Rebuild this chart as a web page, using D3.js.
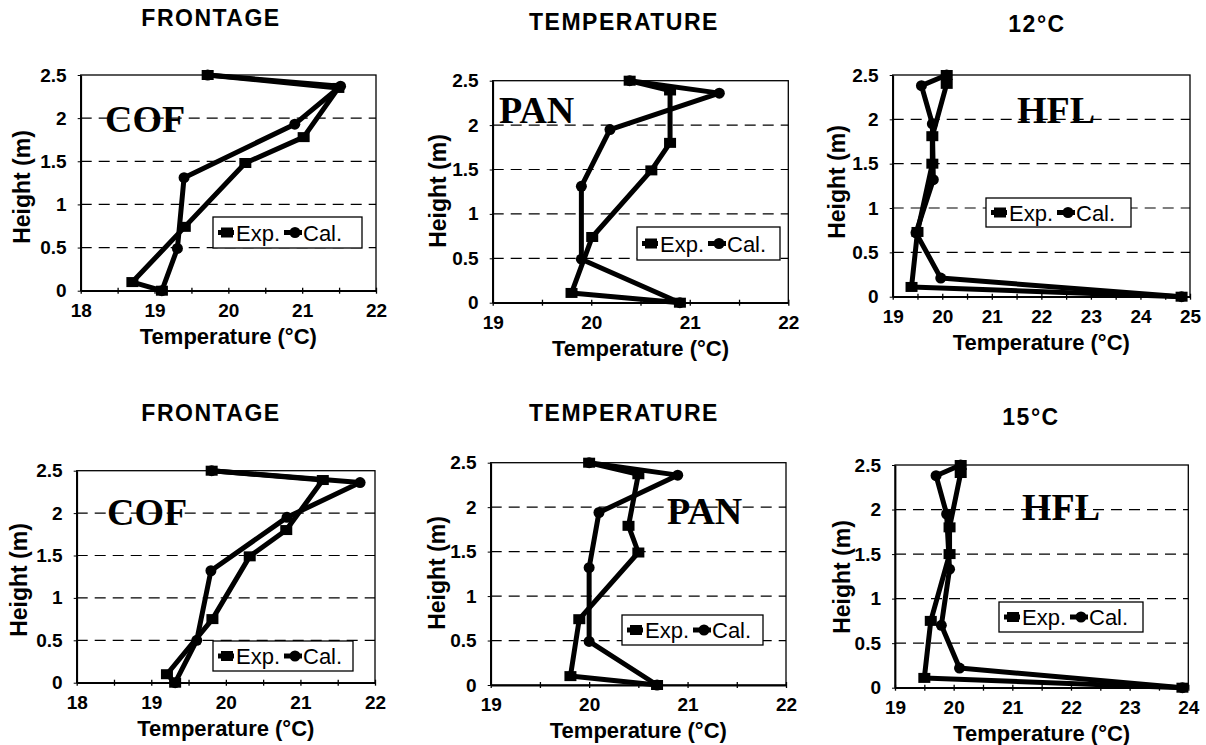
<!DOCTYPE html>
<html><head><meta charset="utf-8">
<script src="https://cdn.jsdelivr.net/npm/d3@7"></script>
<style>
html,body{margin:0;padding:0;background:#fff;}
svg text{font-family:"Liberation Sans",Arial,sans-serif;fill:#000;}
</style></head>
<body><svg id="chart" width="1206" height="745"></svg>
<script>
// ---------- data ----------
const heightTicks = [0, 0.5, 1, 1.5, 2, 2.5];
const gridLevels = [0.5, 1, 1.5, 2];
const titleWords = ["FRONTAGE", "TEMPERATURE", "12°C", "FRONTAGE", "TEMPERATURE", "15°C"];
const panelLabels = ["COF", "PAN", "HFL", "COF", "PAN", "HFL"];
const seriesNames = ["Exp.", "Cal."];
const xDomains = [[18, 22], [19, 22], [19, 25], [18, 22], [19, 22], [19, 24]];
const xTickLabels = [[18, 19, 20, 21, 22], [19, 20, 21, 22], [19, 20, 21, 22, 23, 24, 25],
                     [18, 19, 20, 21, 22], [19, 20, 21, 22], [19, 20, 21, 22, 23, 24]];

// top row, 12°C
const cofExpT12 = [19.72, 21.49, 21.02, 20.23, 19.41, 18.70, 19.10];
const cofExpH12 = [2.5, 2.35, 1.78, 1.48, 0.74, 0.10, 0];
const cofCalT12 = [19.72, 21.52, 20.90, 19.40, 19.31, 19.10];
const cofCalH12 = [2.5, 2.37, 1.93, 1.31, 0.49, 0];

const panExpT12 = [20.39, 20.80, 20.80, 20.61, 20.01, 19.80, 20.90];
const panExpH12 = [2.5, 2.39, 1.80, 1.49, 0.74, 0.11, 0];
const panCalT12 = [20.39, 21.30, 20.19, 19.90, 19.90, 20.90];
const panCalH12 = [2.5, 2.36, 1.95, 1.31, 0.49, 0];

const hflExpT12 = [20.09, 20.09, 19.80, 19.80, 19.50, 19.38, 24.83];
const hflExpH12 = [2.5, 2.40, 1.81, 1.50, 0.73, 0.11, 0];
const hflCalT12 = [20.09, 19.58, 19.80, 19.82, 19.47, 19.97, 24.83];
const hflCalH12 = [2.5, 2.38, 1.95, 1.32, 0.72, 0.21, 0];

// bottom row, 15°C
const cofExpT15 = [19.81, 21.30, 20.81, 20.32, 19.82, 19.21, 19.32];
const cofExpH15 = [2.5, 2.39, 1.80, 1.49, 0.75, 0.10, 0];
const cofCalT15 = [19.81, 21.80, 20.82, 19.80, 19.61, 19.32];
const cofCalH15 = [2.5, 2.36, 1.95, 1.32, 0.50, 0];

const panExpT15 = [20.00, 20.50, 20.40, 20.50, 19.90, 19.81, 20.69];
const panExpH15 = [2.5, 2.37, 1.79, 1.49, 0.74, 0.10, 0];
const panCalT15 = [20.00, 20.90, 20.10, 20.00, 20.00, 20.69];
const panCalH15 = [2.5, 2.36, 1.94, 1.32, 0.49, 0];

const hflExpT15 = [20.12, 20.12, 19.93, 19.93, 19.61, 19.50, 23.90];
const hflExpH15 = [2.5, 2.41, 1.80, 1.50, 0.75, 0.11, 0];
const hflCalT15 = [20.12, 19.70, 19.88, 19.93, 19.79, 20.10, 23.90];
const hflCalH15 = [2.5, 2.38, 1.95, 1.33, 0.70, 0.22, 0];

const expT = [cofExpT12, panExpT12, hflExpT12, cofExpT15, panExpT15, hflExpT15];
const expH = [cofExpH12, panExpH12, hflExpH12, cofExpH15, panExpH15, hflExpH15];
const calT = [cofCalT12, panCalT12, hflCalT12, cofCalT15, panCalT15, hflCalT15];
const calH = [cofCalH12, panCalH12, hflCalH12, cofCalH15, panCalH15, hflCalH15];

// ---------- layout ----------
const layout = [
  {l: 80.7, r: 376, t: 75, b: 290.7, tx: 211, ty: 26, lx: 105, ly: 132, lg: [213, 217, 149, 31], yt: [22, 187]},
  {l: 492.7, r: 788.3, t: 80.7, b: 302.7, tx: 624, ty: 30, lx: 499, ly: 123, lg: [637, 227, 143, 33], yt: [438, 191]},
  {l: 892.7, r: 1190, t: 75, b: 296.7, tx: 1037, ty: 32, lx: 1017, ly: 123, lg: [986, 198, 145, 29], yt: [837, 182]},
  {l: 76.7, r: 375, t: 470.7, b: 682.7, tx: 211, ty: 421, lx: 107, ly: 525, lg: [213, 641, 140, 30], yt: [19, 580]},
  {l: 490.7, r: 786, t: 462.7, b: 685, tx: 624, ty: 421, lx: 667, ly: 524, lg: [622, 615, 141, 30], yt: [437, 573]},
  {l: 895, r: 1188.3, t: 465, b: 687.7, tx: 1031, ty: 425, lx: 1022, ly: 520, lg: [999, 602, 144, 30], yt: [842, 577]}
];

const svg = d3.select("#chart");
const yFmt = d3.format("~g");

layout.forEach((L, i) => {
  const x = d3.scaleLinear().domain(xDomains[i]).range([L.l, L.r]);
  const y = d3.scaleLinear().domain([0, 2.5]).range([L.b, L.t]);
  const g = svg.append("g");

  // title word
  g.append("text").attr("x", L.tx).attr("y", L.ty).attr("text-anchor", "middle")
    .style("font-weight", "bold").style("font-size", "23px").style("letter-spacing", "1.5px")
    .text(titleWords[i]);

  // grid
  g.selectAll(".grid").data(gridLevels).join("line")
    .attr("x1", L.l).attr("x2", L.r).attr("y1", d => y(d)).attr("y2", d => y(d))
    .attr("stroke", "#000").attr("stroke-width", 1.2).attr("stroke-dasharray", "11,7");

  // frame
  g.append("rect").attr("x", L.l).attr("y", L.t).attr("width", L.r - L.l).attr("height", L.b - L.t)
    .attr("fill", "none").attr("stroke", "#000").attr("stroke-width", 1.3);

  // x axis minor ticks
  const lo = xDomains[i][0], hi = xDomains[i][1];
  const minor = d3.range(lo, hi + 0.001, 0.5);
  const xMinor = g.append("g").attr("transform", `translate(0,${L.b})`)
    .call(d3.axisBottom(x).tickValues(minor).tickSizeInner(3).tickSizeOuter(0).tickFormat(""));
  xMinor.selectAll(".tick line").attr("y1", -3).attr("stroke-width", 1.3);
  xMinor.select(".domain").attr("stroke-width", 1.8);

  const xLab = g.append("g").attr("transform", `translate(0,${L.b})`)
    .call(d3.axisBottom(x).tickValues(xTickLabels[i]).tickSize(0).tickPadding(13).tickFormat(d3.format("d")));
  xLab.select(".domain").remove();
  xLab.selectAll("text").style("font-size", "19px").style("font-weight", "bold")
    .style("font-family", "'Liberation Sans',Arial,sans-serif");

  // y axis
  const yAx = g.append("g").attr("transform", `translate(${L.l},0)`)
    .call(d3.axisLeft(y).tickValues(heightTicks).tickSizeInner(3).tickSizeOuter(0).tickPadding(11).tickFormat(yFmt));
  yAx.select(".domain").attr("stroke-width", 1.8);
  yAx.selectAll("text").style("font-size", "19px").style("font-weight", "bold")
    .style("font-family", "'Liberation Sans',Arial,sans-serif");

  // axis titles
  g.append("text").attr("x", (L.l + L.r) / 2).attr("y", L.b + 53).attr("text-anchor", "middle")
    .style("font-weight", "bold").style("font-size", "22px").text("Temperature (°C)");
  g.append("text").attr("transform", `translate(${L.yt[0] + 8},${L.yt[1]}) rotate(-90)`)
    .attr("text-anchor", "middle").style("font-weight", "bold").style("font-size", "23px").text("Height (m)");

  // panel label
  g.append("text").attr("x", L.lx).attr("y", L.ly)
    .style("font-family", "'Liberation Serif','Times New Roman',serif")
    .style("font-weight", "bold").style("font-size", "38px").text(panelLabels[i]);

  // series
  const line = d3.line().x(d => x(d[0])).y(d => y(d[1]));
  const exp = expT[i].map((t, k) => [t, expH[i][k]]);
  const cal = calT[i].map((t, k) => [t, calH[i][k]]);
  [cal, exp].forEach(s => {
    g.append("path").datum(s).attr("d", line).attr("fill", "none").attr("stroke", "#000")
      .attr("stroke-width", 5).attr("stroke-linejoin", "round");
  });
  g.selectAll(".sq").data(exp).join("rect")
    .attr("x", d => x(d[0]) - 6).attr("y", d => y(d[1]) - 5).attr("width", 12).attr("height", 10).attr("fill", "#000");
  g.selectAll(".ci").data(cal).join("circle")
    .attr("cx", d => x(d[0])).attr("cy", d => y(d[1])).attr("r", 5.5).attr("fill", "#000");

  // legend
  const [bx, by, bw, bh] = L.lg;
  const lgG = g.append("g");
  lgG.append("rect").attr("x", bx).attr("y", by).attr("width", bw).attr("height", bh)
    .attr("fill", "#fff").attr("stroke", "#000").attr("stroke-width", 1.3);
  const cy = by + bh / 2;
  lgG.append("line").attr("x1", bx + 5).attr("x2", bx + 21).attr("y1", cy).attr("y2", cy)
    .attr("stroke", "#000").attr("stroke-width", 5);
  lgG.append("rect").attr("x", bx + 8).attr("y", cy - 5).attr("width", 12).attr("height", 10).attr("fill", "#000");
  lgG.append("text").attr("x", bx + 23).attr("y", cy + 8).style("font-size", "22px").text(seriesNames[0]);
  lgG.append("line").attr("x1", bx + 71).attr("x2", bx + 89).attr("y1", cy).attr("y2", cy)
    .attr("stroke", "#000").attr("stroke-width", 5);
  lgG.append("circle").attr("cx", bx + 82).attr("cy", cy).attr("r", 5.5).attr("fill", "#000");
  lgG.append("text").attr("x", bx + 90).attr("y", cy + 8).style("font-size", "22px").text(seriesNames[1]);
});
</script></body></html>
